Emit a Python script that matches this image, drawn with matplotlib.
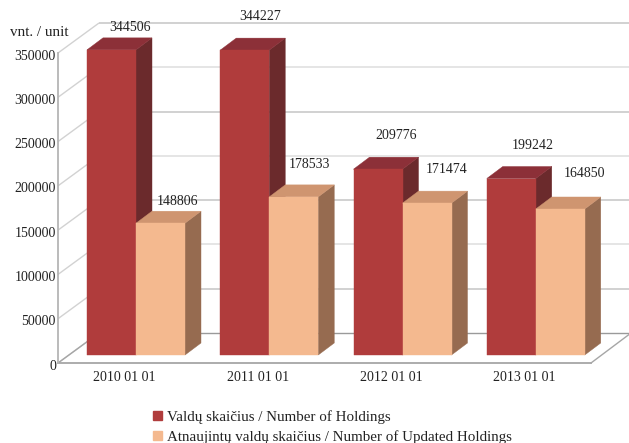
import matplotlib
matplotlib.use("Agg")
import matplotlib.pyplot as plt
from matplotlib.patches import Polygon, Patch
from matplotlib.transforms import ScaledTranslation

plt.rcParams['font.family'] = ['Liberation Serif', 'DejaVu Serif']

categories = ['2010 01 01', '2011 01 01', '2012 01 01', '2013 01 01']
holdings = [344506, 344227, 209776, 199242]
updated = [148806, 178533, 171474, 164850]
y_ticks = [0, 50000, 100000, 150000, 200000, 250000, 300000, 350000]
series_names = ['Valdų skaičius / Number of Holdings',
                'Atnaujintų valdų skaičius / Number of Updated Holdings']
unit_label = 'vnt. / unit'

# label offsets from the bar's front-top centre, in pixels
holdings_off = [(18, 22), (15, 34), (18, 34), (21, 33)]
updated_off = [(17, 22), (16, 32), (20, 34), (24, 35)]

W, H = 629, 443
L, R, B, T = 58, 591, 363, 53
fig = plt.figure(figsize=(W / 100, H / 100), dpi=100, facecolor='white')
ax = fig.add_axes([L / W, (H - B) / H, (R - L) / W, (B - T) / H])
ax.set_xlim(0, 4)
ax.set_ylim(0, 350000)
for s in ax.spines.values():
    s.set_visible(False)

px = 4 / (R - L)
py = 350000 / (B - T)
DX, DY = 41 * px, 30 * py          # wall depth
bx, by = 16 * px, 12 * py          # bar depth
base = 8 * py
slot = 133.25 * px
bar_w = 49 * px
start = 29 * px

grid_c = '#d2d2d2'
axis_c = '#a6a6a6'
for i, v in enumerate(y_ticks):
    ax.plot([0, DX], [v, v + DY], color=grid_c, lw=1, clip_on=False, zorder=1,
            solid_capstyle='butt')
    if v:
        ax.plot([DX, 4 + 40 * px], [v + DY, v + DY],
                color='#c9c9c9' if i % 2 else '#e0e0e0', lw=1.2,
                clip_on=False, zorder=1, solid_capstyle='butt')
# floor
ax.plot([0, DX], [0, DY], color=axis_c, lw=1, clip_on=False, zorder=2)
ax.plot([DX, 4 + 40 * px], [DY, DY], color='#9a9a9a', lw=1, clip_on=False, zorder=2)
ax.plot([4, 4 + 40 * px], [0, DY], color=axis_c, lw=1, clip_on=False, zorder=2)
ax.plot([0, 4], [0, 0], color=axis_c, lw=1.3, clip_on=False, zorder=2)
ax.plot([0, 0], [0, 350000], color='#b5b5b5', lw=1.3, clip_on=False, zorder=2)


def bar3d(x0, v, front, top, side, z):
    x1 = x0 + bar_w
    y0, y1 = base, base + v
    ax.add_patch(Polygon([(x1, y0), (x1 + bx, y0 + by), (x1 + bx, y1 + by), (x1, y1)],
                         fc=side, ec=side, lw=0.3, zorder=z, clip_on=False))
    ax.add_patch(Polygon([(x0, y1), (x1, y1), (x1 + bx, y1 + by), (x0 + bx, y1 + by)],
                         fc=top, ec=top, lw=0.3, zorder=z, clip_on=False))
    ax.add_patch(Polygon([(x0, y0), (x1, y0), (x1, y1), (x0, y1)],
                         fc=front, ec=front, lw=0.3, zorder=z + 0.1, clip_on=False))
    return (x0 + x1) / 2, y1


RED = ('#B03C3C', '#8C3038', '#6B2A2C')
PEACH = ('#F4B98F', '#CF9570', '#966B50')
fs = 10
for i in range(len(categories)):
    x0 = i * slot + start
    cx, cy = bar3d(x0, holdings[i], *RED, 3 + i)
    ax.annotate(str(holdings[i]), (cx, cy), xytext=holdings_off[i],
                textcoords='offset pixels', ha='center', va='center',
                fontsize=fs, color='#222222', zorder=20, annotation_clip=False)
    cx, cy = bar3d(x0 + bar_w, updated[i], *PEACH, 3.5 + i)
    ax.annotate(str(updated[i]), (cx, cy), xytext=updated_off[i],
                textcoords='offset pixels', ha='center', va='center',
                fontsize=fs, color='#222222', zorder=20, annotation_clip=False)

ax.set_xticks([(i + 0.5) * slot for i in range(len(categories))])
ax.set_xticklabels(categories, fontsize=fs, color='#222222')
ax.set_yticks(y_ticks)
ax.set_yticklabels([str(v) for v in y_ticks], fontsize=fs, color='#222222')
ax.tick_params(axis='both', length=0)
ax.tick_params(axis='y', pad=1.5)
ax.tick_params(axis='x', pad=6)
shift = ScaledTranslation(0, -1.5 / 100, fig.dpi_scale_trans)
for t in ax.get_yticklabels():
    t.set_transform(t.get_transform() + shift)

fig.text(10 / W, 1 - 32 / H, unit_label, fontsize=10.9, color='#222222', va='center')

fig.legend(handles=[Patch(fc=RED[0], ec=RED[0]), Patch(fc=PEACH[0], ec=PEACH[0])],
           labels=series_names, loc='upper left',
           bbox_to_anchor=(153 / W, 1 - 410 / H), frameon=False, fontsize=10.8,
           handlelength=0.6, handleheight=0.6, handletextpad=0.33,
           labelspacing=0.4, borderpad=0, borderaxespad=0, labelcolor='#222222')

fig.savefig('out.png', dpi=100)
